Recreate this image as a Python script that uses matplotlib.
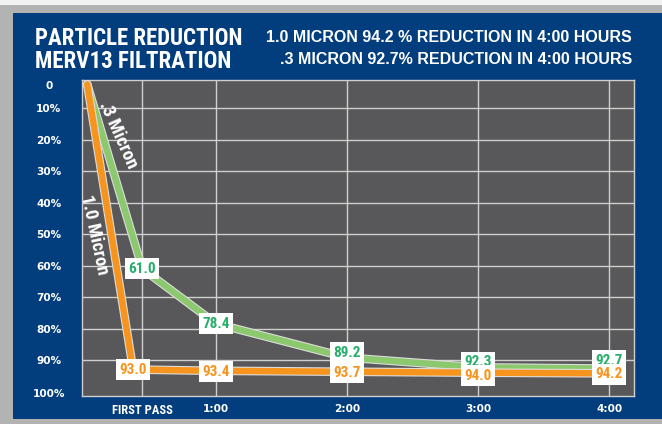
import matplotlib
matplotlib.use("Agg")
import matplotlib.pyplot as plt
import matplotlib.patheffects as pe
from matplotlib.patches import Rectangle

# data (percent reduction)
x_green = [0.02, 0.44, 1, 2, 3, 4]
x_orange = [0.02, 0.37, 1, 2, 3, 4]
green = [2.5, 61.0, 78.4, 89.2, 92.3, 92.7]      # .3 micron
orange = [2.5, 93.0, 93.4, 93.7, 94.0, 94.2]     # 1.0 micron
x_ticks = [0.44, 1, 2, 3, 4]
x_labels = ["FIRST PASS", "1:00", "2:00", "3:00", "4:00"]
y_labels = ["0", "10%", "20%", "30%", "40%", "50%", "60%", "70%", "80%", "90%", "100%"]
y_label_pos = [2.7, 10, 20, 30, 40, 50, 60, 70, 80, 90, 100.5]
y_grid = [10, 20, 30, 40, 50, 60, 70, 80, 90]

BLUE = "#023d7d"
PLOTBG = "#58585a"
GRID = "#cfcfcf"
GREEN = "#8cc86e"
GREEN_TXT = "#27ad6c"
ORANGE = "#f7941d"
COND = "Roboto Condensed"

fig = plt.figure(figsize=(6.62, 4.24), dpi=100)
fig.patch.set_facecolor("#b3b3b3")
W, H = 662, 424
fig.patches.append(Rectangle((0, (H - 5) / H), 1, 5 / H, transform=fig.transFigure,
                             facecolor="#f2f2f2", edgecolor="none", zorder=0))
fig.patches.append(Rectangle((13 / W, 5 / H), 1, (419 - 13) / H, transform=fig.transFigure,
                             facecolor=BLUE, edgecolor="none", zorder=0))

ax = fig.add_axes([82 / W, (H - 396) / H, 552 / W, 316 / H])
ax.set_zorder(2)
ax.set_facecolor(PLOTBG)
ax.set_xlim(-0.02, 4.19)
ax.set_ylim(101.4, 1.1)

for s in ax.spines.values():
    s.set_color(GRID)
    s.set_linewidth(1)

for v in x_ticks:
    ax.axvline(v, color=GRID, lw=1, zorder=1)
for v in y_grid:
    ax.axhline(v, color=GRID, lw=1, zorder=1)

ax.set_xticks(x_ticks)
ax.set_xticklabels(x_labels)
ax.set_yticks(y_label_pos)
ax.set_yticklabels(y_labels)
ax.tick_params(length=0)
ax.tick_params(axis="y", pad=24, colors="white")
ax.tick_params(axis="x", pad=6, colors="white")
for lbl in ax.get_yticklabels():
    lbl.set_ha("center")
    lbl.set_fontfamily("DejaVu Sans")
    lbl.set_fontweight("bold")
    lbl.set_fontsize(7.6)
for i, lbl in enumerate(ax.get_xticklabels()):
    lbl.set_fontweight("bold")
    if i == 0:
        lbl.set_fontfamily(COND)
        lbl.set_fontsize(9)
    else:
        lbl.set_fontfamily("DejaVu Sans")
        lbl.set_fontsize(7.6)

outline = [pe.Stroke(linewidth=6.2, foreground="#dcdcdc"), pe.Normal()]
ax.plot(x_green, green, color=GREEN, lw=4.6, solid_capstyle="round",
        solid_joinstyle="round", path_effects=outline, zorder=3)
ax.plot(x_orange, orange, color=ORANGE, lw=4.6, solid_capstyle="round",
        solid_joinstyle="round", path_effects=outline, zorder=4)

green_off = [0, 0, 0, 5, 5, 8]
orange_off = [0, 0, -1, -1, -3, -1]
box = dict(boxstyle="square,pad=0.22", facecolor="white", edgecolor="none")
for i in range(1, len(green)):
    ax.annotate(f"{green[i]:.1f}", (x_green[i], green[i]), xytext=(0, green_off[i]),
                textcoords="offset pixels", ha="center", va="center",
                fontfamily=COND, fontweight="bold", fontsize=11,
                color=GREEN_TXT, bbox=box, zorder=6)
for i in range(1, len(orange)):
    ax.annotate(f"{orange[i]:.1f}", (x_orange[i], orange[i]), xytext=(0, orange_off[i]),
                textcoords="offset pixels", ha="center", va="center",
                fontfamily=COND, fontweight="bold", fontsize=11,
                color=ORANGE, bbox=box, zorder=6)

ax.text(0.255, 18.6, ".3 Micron", rotation=-66, ha="center", va="center",
        rotation_mode="anchor", color="white", fontfamily=COND,
        fontweight="bold", fontsize=13.5, zorder=5)
ax.text(0.074, 50.3, "1.0 Micron", rotation=-78, ha="center", va="center",
        rotation_mode="anchor", color="white", fontfamily=COND,
        fontweight="bold", fontsize=13.5, zorder=5)

# header
fig.text(35 / W, (H - 45) / H, "PARTICLE REDUCTION", color="white",
         fontfamily=COND, fontweight="black", fontsize=16.5, va="baseline")
fig.text(35 / W, (H - 68) / H, "MERV13 FILTRATION", color="white",
         fontfamily=COND, fontweight="black", fontsize=16.5, va="baseline")
fig.text(632 / W, (H - 42) / H, "1.0 MICRON 94.2 % REDUCTION IN 4:00 HOURS",
         color="white", fontfamily="Liberation Sans", fontweight="bold",
         fontsize=11.5, ha="right", va="baseline")
fig.text(632 / W, (H - 64) / H, ".3 MICRON 92.7% REDUCTION IN 4:00 HOURS",
         color="white", fontfamily="Liberation Sans", fontweight="bold",
         fontsize=11.5, ha="right", va="baseline")

fig.savefig("out.png", dpi=100, facecolor=fig.get_facecolor())
